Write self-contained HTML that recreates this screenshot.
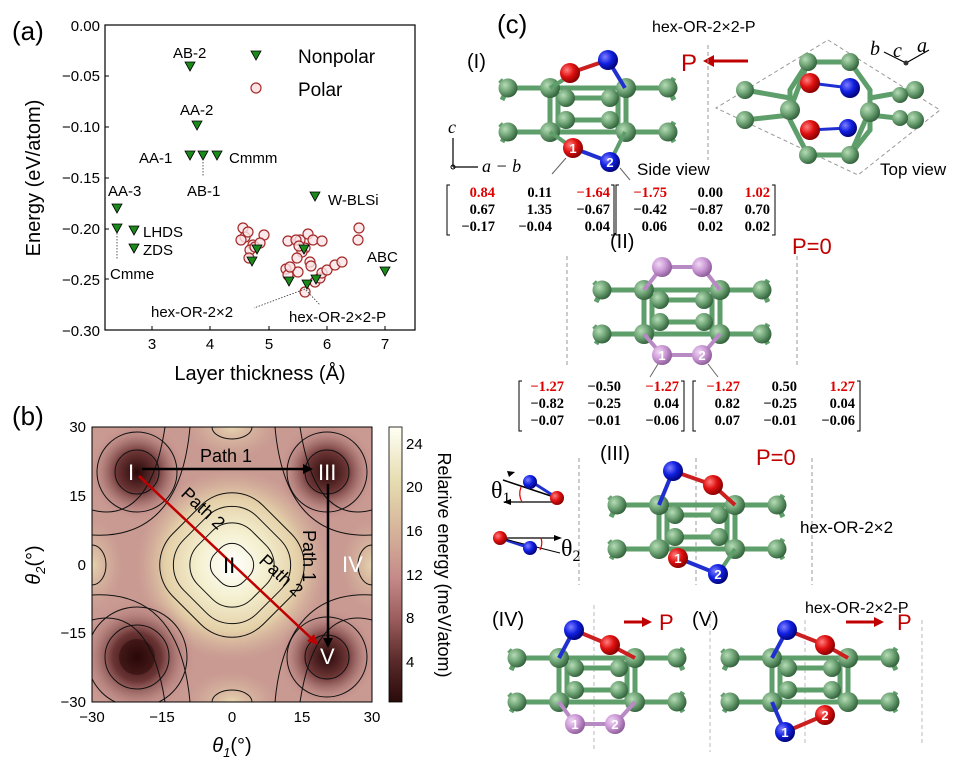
<!DOCTYPE html>
<html><head><meta charset="utf-8"><style>
body{margin:0;background:#fff;}
svg{display:block;font-family:"Liberation Sans",sans-serif;}
.m{font-family:"Liberation Serif",serif;font-weight:bold;font-size:14.5px;}
</style></head><body>
<svg width="957" height="780" viewBox="0 0 957 780" xmlns="http://www.w3.org/2000/svg">
<defs>
<radialGradient id="ga" cx="35%" cy="35%" r="70%"><stop offset="0" stop-color="#b6dcb6"/><stop offset="0.5" stop-color="#6fa476"/><stop offset="1" stop-color="#2f5e38"/></radialGradient>
<radialGradient id="gr" cx="35%" cy="35%" r="70%"><stop offset="0" stop-color="#ff8080"/><stop offset="0.5" stop-color="#e01010"/><stop offset="1" stop-color="#800000"/></radialGradient>
<radialGradient id="gb" cx="35%" cy="35%" r="70%"><stop offset="0" stop-color="#8080ff"/><stop offset="0.5" stop-color="#1020e0"/><stop offset="1" stop-color="#000070"/></radialGradient>
<radialGradient id="gp" cx="35%" cy="35%" r="70%"><stop offset="0" stop-color="#f0d8f4"/><stop offset="0.5" stop-color="#cc9ad6"/><stop offset="1" stop-color="#8a5a96"/></radialGradient>
<radialGradient id="dk" cx="50%" cy="50%" r="50%"><stop offset="0" stop-color="#2a0808"/><stop offset="0.4" stop-color="#6a3434"/><stop offset="0.75" stop-color="#b07a78" stop-opacity="0.5"/><stop offset="1" stop-color="#c89490" stop-opacity="0"/></radialGradient>
<radialGradient id="lt" cx="50%" cy="50%" r="50%"><stop offset="0" stop-color="#ffffff"/><stop offset="0.35" stop-color="#f4f0d0"/><stop offset="0.7" stop-color="#e4d0a8"/><stop offset="1" stop-color="#d8b8a0" stop-opacity="0"/></radialGradient>
<radialGradient id="tn" cx="50%" cy="50%" r="50%"><stop offset="0" stop-color="#e6d4ae"/><stop offset="1" stop-color="#d8b8a0" stop-opacity="0"/></radialGradient>
<linearGradient id="cb" x1="0" y1="1" x2="0" y2="0"><stop offset="0" stop-color="#2a0a0a"/><stop offset="0.15" stop-color="#5a2a2a"/><stop offset="0.3" stop-color="#9a5c5c"/><stop offset="0.45" stop-color="#c48a88"/><stop offset="0.6" stop-color="#d4ae98"/><stop offset="0.8" stop-color="#e6dcb0"/><stop offset="1" stop-color="#fffff4"/></linearGradient>
<clipPath id="cp"><rect x="92" y="427" width="280" height="275"/></clipPath>
<g id="mol">
 <g stroke="#5e9e6a" stroke-width="5" fill="none">
  <line x1="-80" y1="-22" x2="80" y2="-22"/><line x1="-80" y1="22" x2="80" y2="22"/>
  <line x1="-38" y1="-22" x2="-38" y2="22"/><line x1="38" y1="-22" x2="38" y2="22"/>
  <line x1="-30" y1="-18" x2="-30" y2="20"/><line x1="30" y1="-18" x2="30" y2="20"/>
  <line x1="-22" y1="-12" x2="22" y2="-12"/><line x1="-22" y1="10" x2="22" y2="10"/>
  <line x1="-80" y1="-22" x2="-88" y2="-30"/><line x1="-80" y1="-22" x2="-86" y2="-10"/>
  <line x1="-80" y1="22" x2="-88" y2="14"/><line x1="-80" y1="22" x2="-86" y2="32"/>
  <line x1="80" y1="-22" x2="86" y2="-32"/><line x1="80" y1="-22" x2="86" y2="-10"/>
  <line x1="80" y1="22" x2="86" y2="12"/><line x1="80" y1="22" x2="86" y2="32"/>
 </g>
 <g fill="url(#ga)">
  <circle cx="-22" cy="-12" r="9"/><circle cx="22" cy="-12" r="9"/><circle cx="-22" cy="10" r="9"/><circle cx="22" cy="10" r="9"/>
  <circle cx="-80" cy="-22" r="9.5"/><circle cx="-80" cy="22" r="9.5"/><circle cx="80" cy="-22" r="9.5"/><circle cx="80" cy="22" r="9.5"/>
  <circle cx="-38" cy="-22" r="10"/><circle cx="-38" cy="22" r="10"/><circle cx="38" cy="-22" r="10"/><circle cx="38" cy="22" r="10"/>
 </g>
</g>
</defs>

<!-- ===== (a) ===== -->
<text x="12" y="40" font-size="26">(a)</text>
<rect x="105" y="25" width="310" height="305" fill="none" stroke="#000" stroke-width="1.2"/>
<g font-size="15" text-anchor="end">
<text x="100" y="31">0.00</text><text x="100" y="81">−0.05</text><text x="100" y="132">−0.10</text><text x="100" y="183">−0.15</text><text x="100" y="234">−0.20</text><text x="100" y="285">−0.25</text><text x="100" y="336">−0.30</text>
</g>
<g stroke="#000"><line x1="105" y1="76" x2="109" y2="76"/><line x1="105" y1="127" x2="109" y2="127"/><line x1="105" y1="178" x2="109" y2="178"/><line x1="105" y1="229" x2="109" y2="229"/><line x1="105" y1="279" x2="109" y2="279"/>
<line x1="152" y1="330" x2="152" y2="326"/><line x1="210" y1="330" x2="210" y2="326"/><line x1="269" y1="330" x2="269" y2="326"/><line x1="327" y1="330" x2="327" y2="326"/><line x1="385" y1="330" x2="385" y2="326"/></g>
<g font-size="15" text-anchor="middle"><text x="152" y="349">3</text><text x="210" y="349">4</text><text x="269" y="349">5</text><text x="327" y="349">6</text><text x="385" y="349">7</text></g>
<text x="260" y="380" font-size="20" text-anchor="middle">Layer thickness (Å)</text>
<text transform="translate(40,178) rotate(-90)" font-size="20" text-anchor="middle">Energy (eV/atom)</text>
<g fill="#fbe4e6" fill-opacity="0.8" stroke="#a52a2a" stroke-width="1.2">
<circle cx="243" cy="228" r="5"/><circle cx="245" cy="237" r="5"/><circle cx="241" cy="240" r="5"/><circle cx="253" cy="245" r="5"/><circle cx="248" cy="232" r="5"/><circle cx="264" cy="235" r="5"/><circle cx="250" cy="250" r="5"/><circle cx="255" cy="247" r="5"/><circle cx="260" cy="243" r="5"/><circle cx="249" cy="258" r="5"/>
<circle cx="288" cy="241" r="5"/><circle cx="300" cy="240" r="5"/><circle cx="296" cy="240" r="5"/><circle cx="308" cy="234" r="5"/><circle cx="313" cy="240" r="5"/><circle cx="322" cy="241" r="5"/><circle cx="305" cy="248" r="5"/><circle cx="302" cy="252" r="5"/><circle cx="297" cy="258" r="5"/><circle cx="310" cy="262" r="5"/><circle cx="311" cy="266" r="5"/><circle cx="286" cy="269" r="5"/><circle cx="288" cy="275" r="5"/><circle cx="298" cy="272" r="5"/><circle cx="290" cy="267" r="5"/><circle cx="299" cy="246" r="5"/>
<circle cx="315" cy="282" r="5"/><circle cx="320" cy="278" r="5"/><circle cx="322" cy="273" r="5"/><circle cx="327" cy="270" r="5"/><circle cx="335" cy="265" r="5"/><circle cx="342" cy="262" r="5"/><circle cx="305" cy="292" r="5"/><circle cx="359" cy="228" r="5"/><circle cx="358" cy="240" r="5"/>
</g>
<g fill="#1a8a1a" stroke="#000" stroke-width="0.8">
<path d="M185 62 h10 l-5 9z"/>
<path d="M192 121 h10 l-5 9z"/><path d="M185 151 h10 l-5 9z"/><path d="M198 151 h10 l-5 9z"/><path d="M212 151 h10 l-5 9z"/>
<path d="M112 204 h10 l-5 9z"/><path d="M112 224 h10 l-5 9z"/><path d="M129 226 h10 l-5 9z"/><path d="M129 244 h10 l-5 9z"/>
<path d="M310 192 h10 l-5 9z"/><path d="M380 267 h10 l-5 9z"/><path d="M252 245 h10 l-5 9z"/><path d="M247 257 h10 l-5 9z"/><path d="M284 277 h10 l-5 9z"/><path d="M299 245 h10 l-5 9z"/><path d="M302 280 h10 l-5 9z"/><path d="M311 275 h10 l-5 9z"/>
<path d="M251 51 h10 l-5 9z"/>
</g>
<circle cx="256" cy="88" r="5" fill="#fbe4e6" stroke="#a52a2a" stroke-width="1.2"/>
<text x="298" y="63" font-size="19">Nonpolar</text><text x="298" y="96" font-size="19">Polar</text>
<g font-size="15">
<text x="173" y="58">AB-2</text><text x="180" y="115">AA-2</text><text x="139" y="163">AA-1</text><text x="229" y="163">Cmmm</text><text x="187" y="196">AB-1</text>
<text x="108" y="196">AA-3</text><text x="143" y="237">LHDS</text><text x="143" y="255">ZDS</text><text x="110" y="279">Cmme</text><text x="328" y="205">W-BLSi</text><text x="367" y="262">ABC</text>
<text x="151" y="317">hex-OR-2×2</text><text x="289" y="322">hex-OR-2×2-P</text>
</g>
<g stroke="#333" stroke-width="0.8" stroke-dasharray="1.5,1.5" fill="none">
<line x1="203" y1="162" x2="203" y2="176"/><line x1="117" y1="233" x2="117" y2="260"/><line x1="305" y1="289" x2="254" y2="308"/><line x1="306" y1="290" x2="320" y2="305"/></g>

<!-- ===== (b) ===== -->
<text x="12" y="425" font-size="26">(b)</text>
<g clip-path="url(#cp)">
<rect x="92" y="427" width="280" height="275" fill="#c99a92"/>
<ellipse cx="232" cy="427" rx="45" ry="30" fill="url(#tn)"/><ellipse cx="232" cy="702" rx="45" ry="30" fill="url(#tn)"/>
<ellipse cx="92" cy="565" rx="30" ry="45" fill="url(#tn)"/><ellipse cx="372" cy="565" rx="30" ry="45" fill="url(#tn)"/>
<ellipse cx="232" cy="565" rx="95" ry="95" fill="url(#lt)" transform="rotate(45 232 565)"/>
<circle cx="137" cy="472" r="50" fill="url(#dk)"/><circle cx="327" cy="472" r="50" fill="url(#dk)"/><circle cx="327" cy="657" r="50" fill="url(#dk)"/><circle cx="137" cy="657" r="60" fill="url(#dk)"/><circle cx="137" cy="657" r="18" fill="#2a0808" opacity="0.5"/>
<g fill="none" stroke="#111" stroke-width="1">
<rect x="212" y="545" width="40" height="40" rx="16" transform="rotate(45 232 565)"/>
<rect x="194" y="527" width="76" height="76" rx="28" transform="rotate(45 232 565)"/>
<rect x="180" y="513" width="104" height="104" rx="36" transform="rotate(45 232 565)"/>
<rect x="168" y="501" width="128" height="128" rx="44" transform="rotate(45 232 565)"/>
<circle cx="137" cy="472" r="22"/><circle cx="137" cy="472" r="40"/><circle cx="327" cy="472" r="22"/><circle cx="327" cy="472" r="40"/>
<circle cx="327" cy="657" r="22"/><circle cx="327" cy="657" r="40"/><circle cx="137" cy="657" r="32"/><circle cx="137" cy="657" r="50"/>
<path d="M92 510 Q150 525 165 427"/><path d="M300 427 Q315 525 372 510"/><path d="M92 620 Q150 605 165 702"/><path d="M300 702 Q315 605 372 620"/>
<path d="M92 535 Q180 540 190 427"/><path d="M275 427 Q285 540 372 535"/><path d="M92 595 Q180 590 190 702"/><path d="M275 702 Q285 590 372 595"/>
<ellipse cx="92" cy="565" rx="14" ry="20"/><ellipse cx="372" cy="565" rx="14" ry="20"/><ellipse cx="232" cy="427" rx="20" ry="12"/><ellipse cx="232" cy="702" rx="20" ry="12"/>
</g>
</g>
<rect x="92" y="427" width="280" height="275" fill="none" stroke="#000"/>
<g stroke-width="2.5"><line x1="142" y1="469" x2="305" y2="469" stroke="#000"/><path d="M313 469 l-10 -5 v10z" fill="#000"/>
<line x1="328" y1="484" x2="328" y2="640" stroke="#000"/><path d="M328 648 l-5 -10 h10z" fill="#000"/>
<line x1="139" y1="476" x2="312" y2="639" stroke="#c00000"/><path d="M318 645 l-11 -4 l7 -7z" fill="#c00000"/></g>
<g font-size="22" fill="#fff"><text x="128" y="480">I</text><text x="318" y="480">III</text><text x="342" y="572">IV</text><text x="320" y="664">V</text></g>
<text x="223" y="573" font-size="22">II</text>
<text x="200" y="462" font-size="18">Path 1</text>
<text transform="translate(303,530) rotate(90)" font-size="18">Path 1</text>
<text transform="translate(180,495) rotate(43)" font-size="18">Path 2</text>
<text transform="translate(258,562) rotate(43)" font-size="18">Path 2</text>
<g font-size="15" text-anchor="end"><text x="86" y="432">30</text><text x="86" y="501">15</text><text x="86" y="570">0</text><text x="86" y="638">−15</text><text x="86" y="707">−30</text></g>
<g font-size="15" text-anchor="middle"><text x="92" y="722">−30</text><text x="162" y="722">−15</text><text x="232" y="722">0</text><text x="302" y="722">15</text><text x="372" y="722">30</text></g>
<text x="232" y="752" font-size="20" text-anchor="middle" font-style="italic">θ<tspan font-size="13" dy="5">1</tspan><tspan dy="-5" font-style="normal">(°)</tspan></text>
<text transform="translate(40,565) rotate(-90)" font-size="20" text-anchor="middle" font-style="italic">θ<tspan font-size="13" dy="5">2</tspan><tspan dy="-5" font-style="normal">(°)</tspan></text>
<rect x="389" y="427" width="13" height="275" fill="url(#cb)" stroke="#000" stroke-width="0.8"/>
<g font-size="15"><text x="406" y="449">24</text><text x="406" y="492">20</text><text x="406" y="536">16</text><text x="406" y="580">12</text><text x="406" y="623">8</text><text x="406" y="667">4</text></g>
<text transform="translate(438,565) rotate(90)" font-size="18" text-anchor="middle">Relarive energy (meV/atom)</text>

<!-- ===== (c) ===== -->
<text x="497" y="33" font-size="26">(c)</text>
<text x="652" y="32" font-size="16">hex-OR-2×2-P</text>
<text x="681" y="71" font-size="24" fill="#c00000">P</text>
<line x1="748" y1="61" x2="712" y2="61" stroke="#c00000" stroke-width="3"/><path d="M703 61 l11 -6 v12z" fill="#c00000"/>
<line x1="708" y1="45" x2="708" y2="160" stroke="#999" stroke-dasharray="4,3"/>
<text x="467" y="68" font-size="20">(I)</text>
<g font-family="Liberation Serif,serif" font-style="italic" font-size="20"><text x="870" y="55">b</text><text x="893" y="57">c</text><text x="917" y="52">a</text></g>
<g stroke="#000" stroke-width="1.2"><line x1="906" y1="63" x2="884" y2="52"/><line x1="906" y1="63" x2="929" y2="50"/></g><circle cx="906" cy="63" r="2.5" fill="#333"/>
<g stroke="#000" stroke-width="1.2"><line x1="453" y1="167" x2="453" y2="138"/><line x1="453" y1="167" x2="478" y2="167"/></g><circle cx="453" cy="167" r="2" fill="none" stroke="#000"/>
<text x="448" y="133" font-family="Liberation Serif,serif" font-style="italic" font-size="18">c</text>
<text x="482" y="172" font-family="Liberation Serif,serif" font-style="italic" font-size="18">a − b</text>
<use href="#mol" transform="translate(588,110)"/>
<g stroke-width="4"><line x1="570" y1="73" x2="608" y2="60" stroke="#cc2020"/><line x1="563" y1="80" x2="550" y2="88" stroke="#5e9e6a"/><line x1="608" y1="60" x2="625" y2="88" stroke="#2030d0"/><line x1="573" y1="148" x2="610" y2="162" stroke="#2030d0"/><line x1="573" y1="148" x2="550" y2="132" stroke="#5e9e6a"/><line x1="610" y1="162" x2="625" y2="132" stroke="#5e9e6a"/></g>
<circle cx="570" cy="73" r="10" fill="url(#gr)"/><circle cx="608" cy="60" r="10" fill="url(#gb)"/>
<circle cx="573" cy="148" r="10" fill="url(#gr)"/><circle cx="610" cy="162" r="10" fill="url(#gb)"/>
<g font-size="13" font-weight="bold" fill="#fff" text-anchor="middle"><text x="573" y="153">1</text><text x="610" y="167">2</text></g>
<text x="637" y="175" font-size="17">Side view</text>
<g stroke="#666" stroke-width="1"><line x1="566" y1="158" x2="552" y2="174"/><line x1="620" y1="168" x2="630" y2="180"/></g>
<path d="M828 40 L940 110 L858 175 L716 108Z" fill="none" stroke="#999" stroke-dasharray="4,3"/>
<g stroke="#5e9e6a" stroke-width="5" fill="none">
<path d="M808 62 L850 62 L870 90 L870 130 L850 155 L808 155 L790 120 L790 90Z"/>
<line x1="745" y1="90" x2="790" y2="98"/><line x1="745" y1="120" x2="790" y2="115"/><line x1="870" y1="98" x2="915" y2="90"/><line x1="870" y1="115" x2="915" y2="120"/>
<line x1="790" y1="110" x2="808" y2="62"/><line x1="870" y1="110" x2="850" y2="155"/>
</g>
<g fill="url(#ga)"><circle cx="808" cy="62" r="9"/><circle cx="850" cy="62" r="9"/><circle cx="808" cy="155" r="9"/><circle cx="850" cy="155" r="9"/><circle cx="790" cy="110" r="10"/><circle cx="870" cy="112" r="10"/><circle cx="745" cy="90" r="9"/><circle cx="745" cy="120" r="9"/><circle cx="915" cy="90" r="9"/><circle cx="915" cy="120" r="9"/><circle cx="900" cy="95" r="8"/><circle cx="900" cy="118" r="8"/></g>
<line x1="810" y1="83" x2="850" y2="88" stroke="#2030d0" stroke-width="3"/><line x1="810" y1="130" x2="848" y2="128" stroke="#2030d0" stroke-width="3"/>
<circle cx="810" cy="83" r="10" fill="url(#gr)"/><circle cx="850" cy="88" r="10" fill="url(#gb)"/><circle cx="810" cy="130" r="10" fill="url(#gr)"/><circle cx="848" cy="128" r="9" fill="url(#gb)"/>
<text x="880" y="175" font-size="17">Top view</text>
<g class="m" text-anchor="end">
<text x="495" y="197" fill="#e00000">0.84</text><text x="552" y="197">0.11</text><text x="610" y="197" fill="#e00000">−1.64</text>
<text x="495" y="214">0.67</text><text x="552" y="214">1.35</text><text x="610" y="214">−0.67</text>
<text x="495" y="231">−0.17</text><text x="552" y="231">−0.04</text><text x="610" y="231">0.04</text>
<text x="667" y="197" fill="#e00000">−1.75</text><text x="723" y="197">0.00</text><text x="770" y="197" fill="#e00000">1.02</text>
<text x="667" y="214">−0.42</text><text x="723" y="214">−0.87</text><text x="770" y="214">0.70</text>
<text x="667" y="231">0.06</text><text x="723" y="231">0.02</text><text x="770" y="231">0.02</text>
</g>
<g fill="none" stroke="#000" stroke-width="1"><path d="M450 185 h-3 v50 h3"/><path d="M611 185 h3 v50 h-3"/><path d="M619 185 h-3 v50 h3"/><path d="M772 185 h3 v50 h-3"/></g>
<text x="610" y="248" font-size="20">(II)</text><text x="792" y="254" font-size="22" fill="#c00000">P=0</text>
<line x1="567" y1="256" x2="567" y2="368" stroke="#999" stroke-dasharray="4,3"/><line x1="797" y1="256" x2="797" y2="368" stroke="#999" stroke-dasharray="4,3"/>
<use href="#mol" transform="translate(682,312)"/>
<g stroke="#b88ac4" stroke-width="4"><line x1="662" y1="267" x2="702" y2="267"/><line x1="662" y1="355" x2="702" y2="355"/><line x1="662" y1="267" x2="644" y2="290"/><line x1="702" y1="267" x2="720" y2="290"/><line x1="662" y1="355" x2="644" y2="334"/><line x1="702" y1="355" x2="720" y2="334"/></g>
<g fill="url(#gp)"><circle cx="662" cy="267" r="10"/><circle cx="702" cy="267" r="10"/><circle cx="662" cy="355" r="10"/><circle cx="702" cy="355" r="10"/></g>
<g font-size="13" font-weight="bold" fill="#fff" text-anchor="middle"><text x="662" y="360">1</text><text x="702" y="360">2</text></g>
<g stroke="#666"><line x1="658" y1="364" x2="650" y2="377"/><line x1="708" y1="364" x2="718" y2="377"/></g>
<g class="m" text-anchor="end">
<text x="564" y="391" fill="#e00000">−1.27</text><text x="621" y="391">−0.50</text><text x="679" y="391" fill="#e00000">−1.27</text>
<text x="564" y="408">−0.82</text><text x="621" y="408">−0.25</text><text x="679" y="408">0.04</text>
<text x="564" y="425">−0.07</text><text x="621" y="425">−0.01</text><text x="679" y="425">−0.06</text>
<text x="740" y="391" fill="#e00000">−1.27</text><text x="797" y="391">0.50</text><text x="855" y="391" fill="#e00000">1.27</text>
<text x="740" y="408">0.82</text><text x="797" y="408">−0.25</text><text x="855" y="408">0.04</text>
<text x="740" y="425">0.07</text><text x="797" y="425">−0.01</text><text x="855" y="425">−0.06</text>
</g>
<g fill="none" stroke="#000" stroke-width="1"><path d="M522 381 h-3 v50 h3"/><path d="M681 381 h3 v50 h-3"/><path d="M696 381 h-3 v50 h3"/><path d="M857 381 h3 v50 h-3"/></g>
<text x="600" y="460" font-size="20">(III)</text><text x="756" y="465" font-size="22" fill="#c00000">P=0</text>
<g stroke="#999" stroke-dasharray="4,3"><line x1="579" y1="458" x2="579" y2="585"/><line x1="696" y1="458" x2="696" y2="585"/><line x1="812" y1="458" x2="812" y2="585"/></g>
<use href="#mol" transform="translate(697,527)"/>
<g stroke-width="4"><line x1="673" y1="471" x2="713" y2="485" stroke="#cc2020"/><line x1="673" y1="471" x2="659" y2="505" stroke="#2030d0"/><line x1="713" y1="485" x2="735" y2="505" stroke="#cc2020"/><line x1="678" y1="558" x2="718" y2="574" stroke="#2030d0"/><line x1="718" y1="574" x2="735" y2="549" stroke="#5e9e6a"/></g>
<circle cx="673" cy="471" r="10" fill="url(#gb)"/><circle cx="713" cy="485" r="10" fill="url(#gr)"/><circle cx="678" cy="558" r="10" fill="url(#gr)"/><circle cx="718" cy="574" r="10" fill="url(#gb)"/>
<g font-size="13" font-weight="bold" fill="#fff" text-anchor="middle"><text x="678" y="563">1</text><text x="718" y="579">2</text></g>
<text x="800" y="533" font-size="17">hex-OR-2×2</text>
<g font-family="Liberation Serif,serif" font-size="24"><text x="491" y="498">θ<tspan font-size="16" dy="5">1</tspan></text><text x="561" y="556">θ<tspan font-size="16" dy="5">2</tspan></text></g>
<line x1="503" y1="480" x2="557" y2="498" stroke="#000" stroke-width="1.5"/><path d="M507 471 l8 1 l-6 5z" fill="#000"/>
<line x1="557" y1="502" x2="505" y2="502" stroke="#000" stroke-width="1.2"/><path d="M503 502 l8 -3 v6z" fill="#000"/>
<line x1="532" y1="482" x2="557" y2="498" stroke="#2030d0" stroke-width="3"/>
<circle cx="530" cy="482" r="7" fill="url(#gb)"/><circle cx="557" cy="498" r="7" fill="url(#gr)"/>
<path d="M521 487 Q518 495 522 502" fill="none" stroke="#e00000" stroke-width="1.2"/>
<line x1="500" y1="538" x2="560" y2="538" stroke="#000" stroke-width="1.2"/><path d="M562 538 l-8 -3 v6z" fill="#000"/>
<line x1="500" y1="538" x2="530" y2="548" stroke="#2030d0" stroke-width="3"/><line x1="500" y1="538" x2="560" y2="553" stroke="#000" stroke-width="1"/>
<circle cx="500" cy="538" r="7" fill="url(#gr)"/><circle cx="530" cy="548" r="7" fill="url(#gb)"/>
<path d="M541 538 Q543 544 540 550" fill="none" stroke="#e00000" stroke-width="1.2"/>
<text x="492" y="626" font-size="20">(IV)</text>
<line x1="624" y1="622" x2="645" y2="622" stroke="#c00000" stroke-width="3"/><path d="M652 622 l-10 -5 v10z" fill="#c00000"/>
<text x="659" y="630" font-size="22" fill="#c00000">P</text>
<line x1="594" y1="605" x2="594" y2="750" stroke="#bbb" stroke-dasharray="4,3"/>
<use href="#mol" transform="translate(597,680)"/>
<g stroke-width="4"><line x1="574" y1="630" x2="610" y2="645" stroke="#cc2020"/><line x1="574" y1="630" x2="559" y2="658" stroke="#2030d0"/><line x1="610" y1="645" x2="635" y2="658" stroke="#cc2020"/><line x1="575" y1="724" x2="615" y2="724" stroke="#b88ac4"/><line x1="575" y1="724" x2="559" y2="702" stroke="#b88ac4"/><line x1="615" y1="724" x2="635" y2="702" stroke="#b88ac4"/></g>
<circle cx="574" cy="630" r="10" fill="url(#gb)"/><circle cx="610" cy="645" r="10" fill="url(#gr)"/><circle cx="575" cy="724" r="10" fill="url(#gp)"/><circle cx="615" cy="724" r="10" fill="url(#gp)"/>
<g font-size="13" font-weight="bold" fill="#fff" text-anchor="middle"><text x="575" y="729">1</text><text x="615" y="729">2</text></g>
<text x="692" y="626" font-size="20">(V)</text>
<text x="805" y="613" font-size="16">hex-OR-2×2-P</text>
<line x1="846" y1="622" x2="877" y2="622" stroke="#c00000" stroke-width="3"/><path d="M884 622 l-10 -5 v10z" fill="#c00000"/>
<text x="897" y="630" font-size="22" fill="#c00000">P</text>
<g stroke="#bbb" stroke-dasharray="4,3"><line x1="710" y1="610" x2="710" y2="752"/><line x1="805" y1="620" x2="805" y2="745"/><line x1="922" y1="620" x2="922" y2="745"/></g>
<use href="#mol" transform="translate(810,680)"/>
<g stroke-width="4"><line x1="787" y1="630" x2="825" y2="645" stroke="#cc2020"/><line x1="787" y1="630" x2="772" y2="658" stroke="#2030d0"/><line x1="825" y1="645" x2="848" y2="658" stroke="#cc2020"/><line x1="785" y1="732" x2="825" y2="715" stroke="#cc2020"/><line x1="785" y1="732" x2="772" y2="702" stroke="#2030d0"/></g>
<circle cx="787" cy="630" r="10" fill="url(#gb)"/><circle cx="825" cy="645" r="10" fill="url(#gr)"/><circle cx="785" cy="732" r="10" fill="url(#gb)"/><circle cx="825" cy="715" r="10" fill="url(#gr)"/>
<g font-size="13" font-weight="bold" fill="#fff" text-anchor="middle"><text x="785" y="737">1</text><text x="825" y="720">2</text></g>
</svg>
</body></html>
